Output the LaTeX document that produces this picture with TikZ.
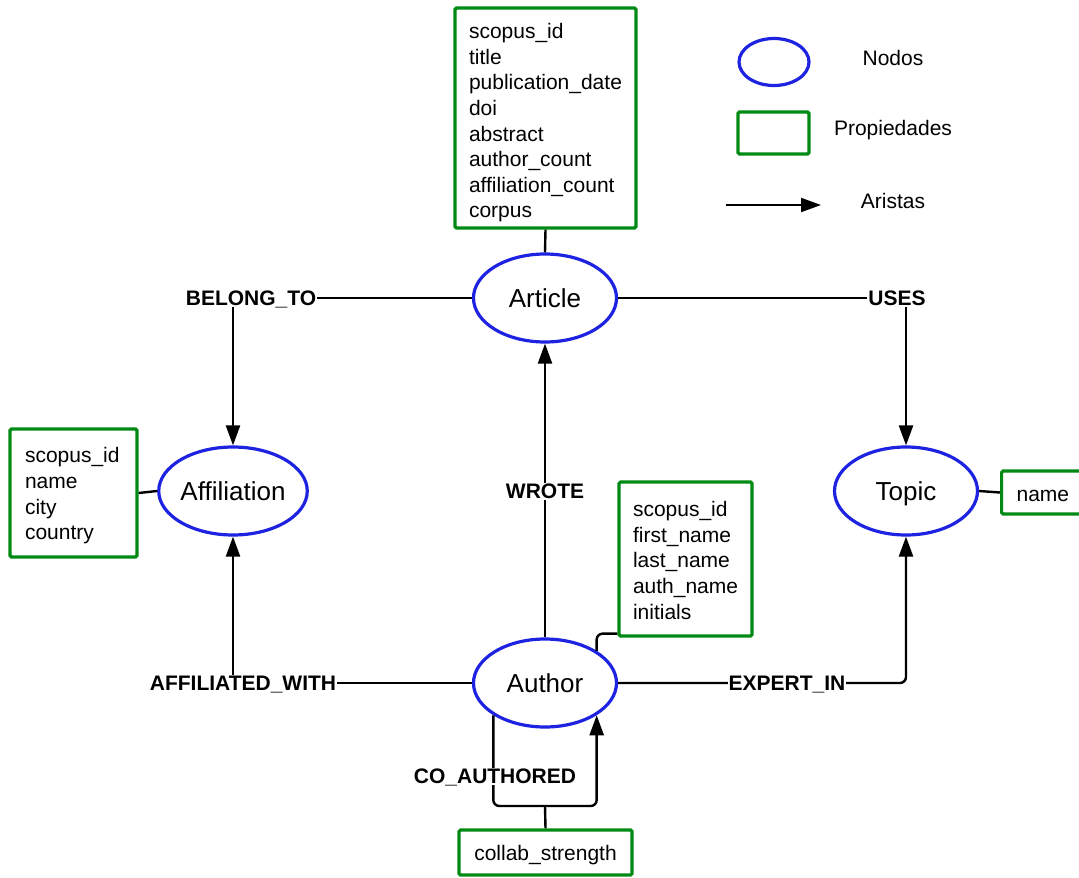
\documentclass[tikz,border=0pt]{standalone}
\usepackage{fontspec}
\setmainfont{Liberation Sans}
\usetikzlibrary{shapes.geometric,arrows.meta}
\definecolor{nodeblue}{RGB}{30,35,225}
\definecolor{propgreen}{RGB}{0,138,20}
% invisible strut that pushes the first line of a box down
\newcommand{\toppad}[1]{\rule{0pt}{#1}}
\begin{document}
\begin{tikzpicture}[x=1pt,y=-1pt,
  entity/.style={ellipse,draw=nodeblue,line width=3.2pt,minimum width=143pt,minimum height=88pt,inner sep=0pt,text depth=0pt,font=\fontsize{26}{30}\selectfont},
  propbox/.style={draw=propgreen,line width=3.2pt,rounded corners=1.5pt,inner xsep=14pt,inner ysep=0pt,align=left,font=\fontsize{21}{25.6}\selectfont},
  edge/.style={line width=2.4pt,-{Triangle[length=20pt,width=14pt]}},
  link/.style={line width=2.4pt},
  rel/.style={fill=white,inner sep=1pt,text height=15pt,text depth=0pt,font=\bfseries\fontsize{21}{25}\selectfont},
  legendtext/.style={font=\fontsize{21}{25}\selectfont}]
\clip (0,0) rectangle (1079,878);

% entities
\node[entity] (article) at (545,298) {Article};
\node[entity] (affil) at (233,491) {Affiliation};
\node[entity] (topic) at (906,491) {Topic};
\node[entity] (author) at (545,683) {Author};

% property boxes
\node[propbox,text width=153pt,minimum height=220pt] (artprops) at (545.5,118)
  {\toppad{25pt}scopus\_id\\title\\publication\_date\\doi\\abstract\\author\_count\\affiliation\_count\\corpus};
\node[propbox,text width=105pt,minimum height=154pt] (autprops) at (685.5,559)
  {\toppad{18pt}scopus\_id\\first\_name\\last\_name\\auth\_name\\initials};
\node[propbox,text width=97pt,inner xsep=15pt,minimum height=128pt] (affprops) at (73.5,493)
  {\toppad{21pt}scopus\_id\\name\\city\\country};
\node[propbox,text width=60pt,inner xsep=15pt,minimum height=43pt,anchor=west] (topprops) at (1000,492.5)
  {\toppad{19pt}name};
\node[propbox,text width=145pt,align=center,minimum height=45pt] (collab) at (545.5,852.5)
  {\toppad{21pt}collab\_strength};

% property links
\draw[link] (artprops.south) -- (article.north);
\draw[link] (affprops.east) -- (affil.west);
\draw[link] (topic.east) -- (topprops.west);
\draw[link,rounded corners=6pt] (author.north east) |- ([yshift=4pt]autprops.south west);

% relationships
\draw[edge] (article.west) -| (affil.north);
\node[rel] (lbelong) at (251,298) {BELONG\_TO};
\draw[edge] (article.east) -| (topic.north);
\node[rel] (luses) at (897,298) {USES};
\draw[edge] (author.north) -- (article.south);
\node[rel] (lwrote) at (545,491) {WROTE};
\draw[edge] (author.west) -| (affil.south);
\node[rel] (laffil) at (243,683) {AFFILIATED\_WITH};
\draw[edge,rounded corners=6pt] (author.east) -| (topic.south);
\node[rel] (lexpert) at (787,683) {EXPERT\_IN};
\coordinate (cb) at (545,806);
\draw[edge,rounded corners=6pt] (author.south west) |- (cb) -| (author.south east);
\node[rel] (lcoauth) at (495,776) {CO\_AUTHORED};
\draw[link] (collab.north) -- (cb);

% legend
\node[ellipse,draw=nodeblue,line width=3.2pt,minimum width=70pt,minimum height=47pt,inner sep=0pt] (legnode) at (774,62) {};
\node[legendtext] (legnodetxt) at (893,58) {Nodos};
\node[draw=propgreen,line width=3.2pt,rounded corners=1.5pt,minimum width=71pt,minimum height=42pt,inner sep=0pt] (legprop) at (773.5,133) {};
\node[legendtext] (legproptxt) at (893,130) {Propiedades};
\coordinate (lega) at (726,205);
\coordinate (legb) at (821,205);
\draw[edge,line width=2pt] (lega) -- (legb);
\node[legendtext] (legedgetxt) at (893,201) {Aristas};
\end{tikzpicture}
\end{document}
